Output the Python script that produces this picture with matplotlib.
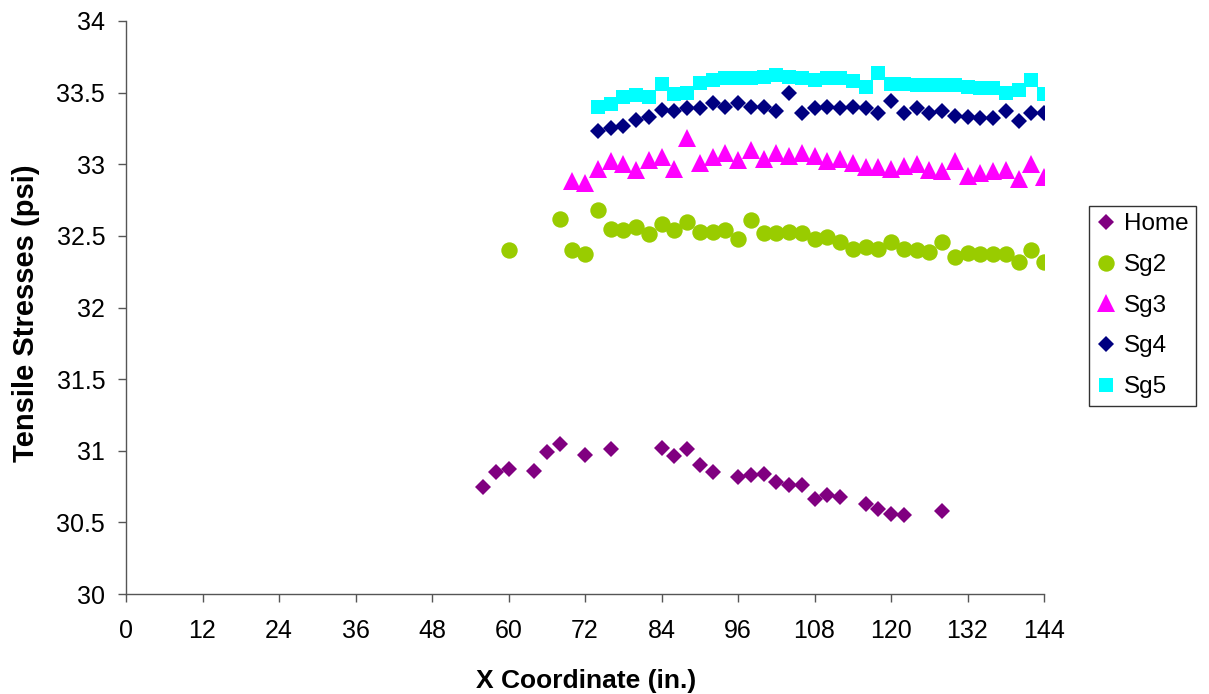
import matplotlib
matplotlib.use("Agg")
import matplotlib.pyplot as plt

plt.rcParams['font.family'] = ['Liberation Sans', 'DejaVu Sans']

home_x = [56, 58, 60, 64, 66, 68, 72, 76, 84, 86, 88, 90, 92, 96, 98, 100, 102, 104, 106,
          108, 110, 112, 116, 118, 120, 122, 128]
home_y = [30.75, 30.85, 30.87, 30.86, 30.99, 31.05, 30.97, 31.01, 31.02, 30.96, 31.01, 30.90,
          30.85, 30.82, 30.83, 30.84, 30.78, 30.76, 30.76, 30.66, 30.69, 30.68, 30.63, 30.59,
          30.56, 30.55, 30.58]

sg2_x = [60, 68, 70, 72, 74, 76, 78, 80, 82, 84, 86, 88, 90, 92, 94, 96, 98, 100, 102, 104,
         106, 108, 110, 112, 114, 116, 118, 120, 122, 124, 126, 128, 130, 132, 134, 136, 138,
         140, 142, 144]
sg2_y = [32.40, 32.62, 32.40, 32.37, 32.68, 32.55, 32.54, 32.56, 32.51, 32.58, 32.54, 32.60,
         32.53, 32.53, 32.54, 32.48, 32.61, 32.52, 32.52, 32.53, 32.52, 32.48, 32.49, 32.46,
         32.41, 32.42, 32.41, 32.46, 32.41, 32.40, 32.39, 32.46, 32.35, 32.38, 32.37, 32.37,
         32.37, 32.32, 32.40, 32.32]

sg3_x = [70, 72, 74, 76, 78, 80, 82, 84, 86, 88, 90, 92, 94, 96, 98, 100, 102, 104, 106, 108,
         110, 112, 114, 116, 118, 120, 122, 124, 126, 128, 130, 132, 134, 136, 138, 140, 142, 144]
sg3_y = [32.88, 32.87, 32.97, 33.02, 33.00, 32.96, 33.03, 33.05, 32.97, 33.18, 33.01, 33.05,
         33.08, 33.03, 33.10, 33.04, 33.08, 33.06, 33.08, 33.06, 33.02, 33.04, 33.01, 32.98,
         32.98, 32.97, 32.99, 33.00, 32.96, 32.95, 33.02, 32.92, 32.94, 32.95, 32.96, 32.90,
         33.00, 32.91]

sg4_x = [74, 76, 78, 80, 82, 84, 86, 88, 90, 92, 94, 96, 98, 100, 102, 104, 106, 108, 110,
         112, 114, 116, 118, 120, 122, 124, 126, 128, 130, 132, 134, 136, 138, 140, 142, 144]
sg4_y = [33.23, 33.25, 33.27, 33.31, 33.33, 33.38, 33.37, 33.39, 33.39, 33.43, 33.40, 33.43,
         33.40, 33.40, 33.37, 33.50, 33.36, 33.39, 33.40, 33.39, 33.40, 33.39, 33.36, 33.44,
         33.36, 33.39, 33.36, 33.37, 33.34, 33.33, 33.32, 33.32, 33.37, 33.30, 33.36, 33.36]

sg5_x = [74, 76, 78, 80, 82, 84, 86, 88, 90, 92, 94, 96, 98, 100, 102, 104, 106, 108, 110,
         112, 114, 116, 118, 120, 122, 124, 126, 128, 130, 132, 134, 136, 138, 140, 142, 144]
sg5_y = [33.40, 33.42, 33.47, 33.48, 33.47, 33.56, 33.49, 33.50, 33.57, 33.59, 33.60, 33.60,
         33.60, 33.61, 33.62, 33.61, 33.60, 33.59, 33.60, 33.60, 33.58, 33.54, 33.64, 33.56,
         33.56, 33.55, 33.55, 33.55, 33.55, 33.54, 33.53, 33.53, 33.50, 33.52, 33.59, 33.49]

x_ticks = [0, 12, 24, 36, 48, 60, 72, 84, 96, 108, 120, 132, 144]
y_ticks = [30, 30.5, 31, 31.5, 32, 32.5, 33, 33.5, 34]
y_tick_labels = ['30', '30.5', '31', '31.5', '32', '32.5', '33', '33.5', '34']

fig = plt.figure(figsize=(12.09, 6.94), dpi=100)
ax = fig.add_axes([126/1209, 1 - 594/694, 918/1209, 573/694])

ax.plot(home_x, home_y, linestyle='none', marker='D', ms=8.5, color='#800080', mew=0, label='Home')
ax.plot(sg2_x, sg2_y, linestyle='none', marker='o', ms=11.8, color='#99CC00', mew=0, label='Sg2')
ax.plot(sg3_x, sg3_y, linestyle='none', marker='^', ms=13, color='#FF00FF', mew=0, label='Sg3')
ax.plot(sg4_x, sg4_y, linestyle='none', marker='D', ms=8.5, color='#000080', mew=0, label='Sg4')
ax.plot(sg5_x, sg5_y, linestyle='none', marker='s', ms=10.5, color='#00FFFF', mew=0, label='Sg5')

ax.set_xlim(0, 144)
ax.set_ylim(30, 34)
ax.set_xticks(x_ticks)
ax.set_yticks(y_ticks)
ax.set_yticklabels(y_tick_labels)
ax.spines['top'].set_visible(False)
ax.spines['right'].set_visible(False)
for s in ('left', 'bottom'):
    ax.spines[s].set_color('#555555')
    ax.spines[s].set_linewidth(1.0)
ax.tick_params(axis='both', direction='out', length=6, width=1, color='#555555',
               labelsize=18, labelcolor='black')
ax.tick_params(axis='y', pad=9)
ax.tick_params(axis='x', pad=12)

ax.set_xlabel('X Coordinate (in.)', fontsize=19, fontweight='bold')
ax.set_ylabel('Tensile Stresses (psi)', fontsize=21, fontweight='bold')
ax.xaxis.set_label_coords(0.501, -0.131)
ax.yaxis.set_label_coords(-0.0937, 0.49)

leg = ax.legend(loc='upper left', bbox_to_anchor=(1089/1209, 1 - 206/694),
                bbox_transform=fig.transFigure, borderaxespad=0, fontsize=17.5,
                frameon=True, fancybox=False, shadow=False, handlelength=0.8,
                handletextpad=0.33, labelspacing=0.77, borderpad=0.3, numpoints=1)
leg.get_frame().set_edgecolor('black')
leg.get_frame().set_linewidth(1.0)

fig.savefig('out.png', dpi=100)
